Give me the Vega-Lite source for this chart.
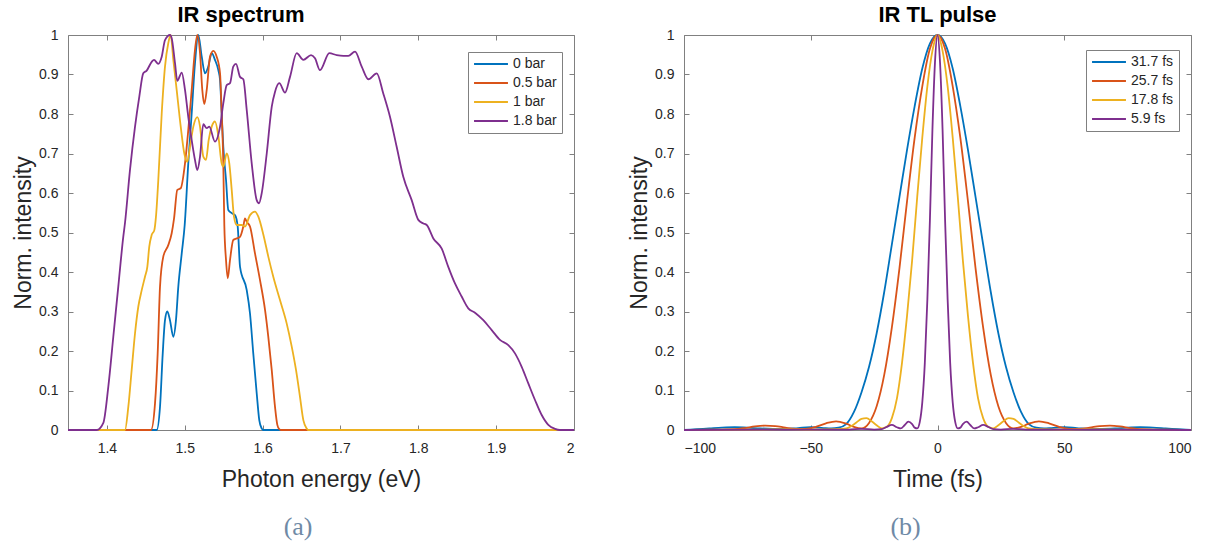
{
"$schema": "https://vega.github.io/schema/vega-lite/v6.json",
"background": "white",
"padding": {"left": 12, "top": 4, "right": 5, "bottom": 5},
"config": {
  "font": "Liberation Sans",
  "view": {"stroke": null},
  "axis": {"domainColor": "#808080", "tickColor": "#808080", "labelColor": "#262626", "titleColor": "#262626", "labelFont": "Liberation Sans", "titleFont": "Liberation Sans", "labelFontSize": 14, "titleFontSize": 23, "titleFontWeight": "normal", "tickSize": -5, "grid": false, "domainWidth": 1},
  "axisX": {"labelPadding": 16, "titlePadding": 13},
  "axisY": {"labelPadding": 15, "titlePadding": 3},
  "legend": {"title": null, "orient": "none", "symbolType": "stroke", "symbolSize": 1150, "symbolStrokeWidth": 2, "labelFontSize": 14, "labelFont": "Liberation Sans", "labelColor": "#262626", "strokeColor": "#808080", "fillColor": "white", "padding": 5, "rowPadding": 5, "clipHeight": 14, "cornerRadius": 0, "labelOffset": 4},
  "title": {"font": "Liberation Sans", "fontSize": 22, "fontWeight": "bold", "color": "black"}
},
"datasets": {
"spec": [
{"s":"0 bar","E":1.35,"I":0},{"s":"0 bar","E":1.4639,"I":0},{"s":"0 bar","E":1.4682,"I":0.059},{"s":"0 bar","E":1.4717,"I":0.194},{"s":"0 bar","E":1.4746,"I":0.278},{"s":"0 bar","E":1.4776,"I":0.300},{"s":"0 bar","E":1.4810,"I":0.278},{"s":"0 bar","E":1.4853,"I":0.236},{"s":"0 bar","E":1.4887,"I":0.278},{"s":"0 bar","E":1.4917,"I":0.363},{"s":"0 bar","E":1.4961,"I":0.447},{"s":"0 bar","E":1.4999,"I":0.519},{"s":"0 bar","E":1.5045,"I":0.675},{"s":"0 bar","E":1.5089,"I":0.802},{"s":"0 bar","E":1.5131,"I":0.928},{"s":"0 bar","E":1.5174,"I":1.0},{"s":"0 bar","E":1.5218,"I":0.945},{"s":"0 bar","E":1.5260,"I":0.903},{"s":"0 bar","E":1.5302,"I":0.920},{"s":"0 bar","E":1.5346,"I":0.954},{"s":"0 bar","E":1.5388,"I":0.937},{"s":"0 bar","E":1.5431,"I":0.911},{"s":"0 bar","E":1.5453,"I":0.886},{"s":"0 bar","E":1.5474,"I":0.802},{"s":"0 bar","E":1.5495,"I":0.717},{"s":"0 bar","E":1.5530,"I":0.633},{"s":"0 bar","E":1.5559,"I":0.557},{"s":"0 bar","E":1.5603,"I":0.549},{"s":"0 bar","E":1.5645,"I":0.544},{"s":"0 bar","E":1.5680,"I":0.515},{"s":"0 bar","E":1.5710,"I":0.413},{"s":"0 bar","E":1.5796,"I":0.354},{"s":"0 bar","E":1.5838,"I":0.295},{"s":"0 bar","E":1.5880,"I":0.194},{"s":"0 bar","E":1.5924,"I":0.093},{"s":"0 bar","E":1.5957,"I":0.025},{"s":"0 bar","E":1.5988,"I":0.004},{"s":"0 bar","E":1.6005,"I":0},{"s":"0 bar","E":2.0,"I":0},
{"s":"0.5 bar","E":1.35,"I":0},{"s":"0.5 bar","E":1.4566,"I":0},{"s":"0.5 bar","E":1.4618,"I":0.068},{"s":"0.5 bar","E":1.4652,"I":0.194},{"s":"0.5 bar","E":1.4682,"I":0.363},{"s":"0.5 bar","E":1.4724,"I":0.439},{"s":"0.5 bar","E":1.4788,"I":0.468},{"s":"0.5 bar","E":1.4832,"I":0.498},{"s":"0.5 bar","E":1.4862,"I":0.535},{"s":"0.5 bar","E":1.4904,"I":0.608},{"s":"0.5 bar","E":1.4948,"I":0.612},{"s":"0.5 bar","E":1.5003,"I":0.675},{"s":"0.5 bar","E":1.5045,"I":0.759},{"s":"0.5 bar","E":1.5089,"I":0.861},{"s":"0.5 bar","E":1.5131,"I":0.962},{"s":"0.5 bar","E":1.5161,"I":1.0},{"s":"0.5 bar","E":1.5196,"I":0.954},{"s":"0.5 bar","E":1.5225,"I":0.861},{"s":"0.5 bar","E":1.5251,"I":0.825},{"s":"0.5 bar","E":1.5282,"I":0.861},{"s":"0.5 bar","E":1.5324,"I":0.945},{"s":"0.5 bar","E":1.5367,"I":0.960},{"s":"0.5 bar","E":1.5410,"I":0.945},{"s":"0.5 bar","E":1.5453,"I":0.903},{"s":"0.5 bar","E":1.5474,"I":0.802},{"s":"0.5 bar","E":1.5495,"I":0.675},{"s":"0.5 bar","E":1.5508,"I":0.519},{"s":"0.5 bar","E":1.5530,"I":0.430},{"s":"0.5 bar","E":1.5552,"I":0.384},{"s":"0.5 bar","E":1.5581,"I":0.430},{"s":"0.5 bar","E":1.5623,"I":0.481},{"s":"0.5 bar","E":1.5667,"I":0.485},{"s":"0.5 bar","E":1.5710,"I":0.489},{"s":"0.5 bar","E":1.5752,"I":0.515},{"s":"0.5 bar","E":1.5774,"I":0.536},{"s":"0.5 bar","E":1.5796,"I":0.527},{"s":"0.5 bar","E":1.5838,"I":0.515},{"s":"0.5 bar","E":1.5902,"I":0.447},{"s":"0.5 bar","E":1.5966,"I":0.380},{"s":"0.5 bar","E":1.6031,"I":0.304},{"s":"0.5 bar","E":1.6073,"I":0.236},{"s":"0.5 bar","E":1.6117,"I":0.152},{"s":"0.5 bar","E":1.6159,"I":0.059},{"s":"0.5 bar","E":1.6189,"I":0.013},{"s":"0.5 bar","E":1.6214,"I":0.002},{"s":"0.5 bar","E":1.6236,"I":0},{"s":"0.5 bar","E":2.0,"I":0},
{"s":"1 bar","E":1.35,"I":0},{"s":"1 bar","E":1.4232,"I":0},{"s":"1 bar","E":1.4275,"I":0.059},{"s":"1 bar","E":1.4318,"I":0.152},{"s":"1 bar","E":1.4361,"I":0.245},{"s":"1 bar","E":1.4403,"I":0.312},{"s":"1 bar","E":1.4447,"I":0.354},{"s":"1 bar","E":1.4489,"I":0.388},{"s":"1 bar","E":1.4519,"I":0.413},{"s":"1 bar","E":1.4544,"I":0.464},{"s":"1 bar","E":1.4575,"I":0.494},{"s":"1 bar","E":1.4609,"I":0.506},{"s":"1 bar","E":1.4630,"I":0.54},{"s":"1 bar","E":1.4660,"I":0.633},{"s":"1 bar","E":1.4704,"I":0.802},{"s":"1 bar","E":1.4746,"I":0.920},{"s":"1 bar","E":1.4788,"I":0.979},{"s":"1 bar","E":1.4819,"I":1.0},{"s":"1 bar","E":1.4853,"I":0.937},{"s":"1 bar","E":1.4896,"I":0.861},{"s":"1 bar","E":1.4948,"I":0.768},{"s":"1 bar","E":1.4994,"I":0.700},{"s":"1 bar","E":1.5033,"I":0.679},{"s":"1 bar","E":1.5067,"I":0.717},{"s":"1 bar","E":1.5110,"I":0.768},{"s":"1 bar","E":1.5161,"I":0.792},{"s":"1 bar","E":1.5196,"I":0.768},{"s":"1 bar","E":1.5238,"I":0.692},{"s":"1 bar","E":1.5273,"I":0.684},{"s":"1 bar","E":1.5307,"I":0.734},{"s":"1 bar","E":1.5346,"I":0.768},{"s":"1 bar","E":1.5388,"I":0.781},{"s":"1 bar","E":1.5431,"I":0.745},{"s":"1 bar","E":1.5474,"I":0.675},{"s":"1 bar","E":1.5495,"I":0.667},{"s":"1 bar","E":1.5539,"I":0.700},{"s":"1 bar","E":1.5572,"I":0.675},{"s":"1 bar","E":1.5603,"I":0.608},{"s":"1 bar","E":1.5632,"I":0.540},{"s":"1 bar","E":1.5667,"I":0.519},{"s":"1 bar","E":1.5731,"I":0.519},{"s":"1 bar","E":1.5774,"I":0.515},{"s":"1 bar","E":1.5838,"I":0.544},{"s":"1 bar","E":1.5902,"I":0.553},{"s":"1 bar","E":1.5945,"I":0.540},{"s":"1 bar","E":1.6009,"I":0.495},{"s":"1 bar","E":1.6073,"I":0.439},{"s":"1 bar","E":1.6137,"I":0.388},{"s":"1 bar","E":1.6223,"I":0.329},{"s":"1 bar","E":1.6309,"I":0.270},{"s":"1 bar","E":1.6374,"I":0.211},{"s":"1 bar","E":1.6429,"I":0.152},{"s":"1 bar","E":1.6480,"I":0.084},{"s":"1 bar","E":1.6523,"I":0.025},{"s":"1 bar","E":1.6566,"I":0.004},{"s":"1 bar","E":1.6583,"I":0},{"s":"1 bar","E":2.0,"I":0},
{"s":"1.8 bar","E":1.35,"I":0},{"s":"1.8 bar","E":1.387,"I":0},{"s":"1.8 bar","E":1.3954,"I":0.018},{"s":"1.8 bar","E":1.4018,"I":0.110},{"s":"1.8 bar","E":1.4082,"I":0.236},{"s":"1.8 bar","E":1.4146,"I":0.363},{"s":"1.8 bar","E":1.4210,"I":0.489},{"s":"1.8 bar","E":1.4232,"I":0.524},{"s":"1.8 bar","E":1.4296,"I":0.658},{"s":"1.8 bar","E":1.4361,"I":0.768},{"s":"1.8 bar","E":1.4416,"I":0.844},{"s":"1.8 bar","E":1.4467,"I":0.903},{"s":"1.8 bar","E":1.4511,"I":0.910},{"s":"1.8 bar","E":1.4575,"I":0.932},{"s":"1.8 bar","E":1.4605,"I":0.937},{"s":"1.8 bar","E":1.4660,"I":0.927},{"s":"1.8 bar","E":1.4704,"I":0.945},{"s":"1.8 bar","E":1.4746,"I":0.987},{"s":"1.8 bar","E":1.4810,"I":1.0},{"s":"1.8 bar","E":1.4832,"I":0.992},{"s":"1.8 bar","E":1.4875,"I":0.928},{"s":"1.8 bar","E":1.4904,"I":0.884},{"s":"1.8 bar","E":1.4961,"I":0.905},{"s":"1.8 bar","E":1.5003,"I":0.861},{"s":"1.8 bar","E":1.5045,"I":0.793},{"s":"1.8 bar","E":1.5089,"I":0.734},{"s":"1.8 bar","E":1.5131,"I":0.684},{"s":"1.8 bar","E":1.5161,"I":0.658},{"s":"1.8 bar","E":1.5196,"I":0.692},{"s":"1.8 bar","E":1.5238,"I":0.774},{"s":"1.8 bar","E":1.5282,"I":0.764},{"s":"1.8 bar","E":1.5315,"I":0.768},{"s":"1.8 bar","E":1.5388,"I":0.730},{"s":"1.8 bar","E":1.5453,"I":0.768},{"s":"1.8 bar","E":1.5495,"I":0.827},{"s":"1.8 bar","E":1.5539,"I":0.873},{"s":"1.8 bar","E":1.5581,"I":0.878},{"s":"1.8 bar","E":1.5623,"I":0.920},{"s":"1.8 bar","E":1.5658,"I":0.927},{"s":"1.8 bar","E":1.5710,"I":0.894},{"s":"1.8 bar","E":1.5752,"I":0.888},{"s":"1.8 bar","E":1.5796,"I":0.810},{"s":"1.8 bar","E":1.5860,"I":0.675},{"s":"1.8 bar","E":1.5924,"I":0.582},{"s":"1.8 bar","E":1.5954,"I":0.574},{"s":"1.8 bar","E":1.5988,"I":0.599},{"s":"1.8 bar","E":1.6053,"I":0.700},{"s":"1.8 bar","E":1.6117,"I":0.818},{"s":"1.8 bar","E":1.6159,"I":0.856},{"s":"1.8 bar","E":1.6214,"I":0.878},{"s":"1.8 bar","E":1.6288,"I":0.854},{"s":"1.8 bar","E":1.6352,"I":0.894},{"s":"1.8 bar","E":1.6438,"I":0.954},{"s":"1.8 bar","E":1.6523,"I":0.937},{"s":"1.8 bar","E":1.6622,"I":0.949},{"s":"1.8 bar","E":1.6673,"I":0.941},{"s":"1.8 bar","E":1.6737,"I":0.911},{"s":"1.8 bar","E":1.6857,"I":0.954},{"s":"1.8 bar","E":1.6952,"I":0.949},{"s":"1.8 bar","E":1.7037,"I":0.947},{"s":"1.8 bar","E":1.7101,"I":0.947},{"s":"1.8 bar","E":1.7187,"I":0.958},{"s":"1.8 bar","E":1.7273,"I":0.920},{"s":"1.8 bar","E":1.7358,"I":0.888},{"s":"1.8 bar","E":1.7466,"I":0.903},{"s":"1.8 bar","E":1.7550,"I":0.852},{"s":"1.8 bar","E":1.7636,"I":0.793},{"s":"1.8 bar","E":1.7722,"I":0.717},{"s":"1.8 bar","E":1.7807,"I":0.641},{"s":"1.8 bar","E":1.7915,"I":0.582},{"s":"1.8 bar","E":1.8000,"I":0.532},{"s":"1.8 bar","E":1.8064,"I":0.523},{"s":"1.8 bar","E":1.8108,"I":0.519},{"s":"1.8 bar","E":1.8193,"I":0.485},{"s":"1.8 bar","E":1.8301,"I":0.459},{"s":"1.8 bar","E":1.8385,"I":0.413},{"s":"1.8 bar","E":1.8471,"I":0.371},{"s":"1.8 bar","E":1.8557,"I":0.338},{"s":"1.8 bar","E":1.8642,"I":0.308},{"s":"1.8 bar","E":1.8728,"I":0.297},{"s":"1.8 bar","E":1.8835,"I":0.278},{"s":"1.8 bar","E":1.8943,"I":0.253},{"s":"1.8 bar","E":1.9049,"I":0.228},{"s":"1.8 bar","E":1.9156,"I":0.215},{"s":"1.8 bar","E":1.9242,"I":0.194},{"s":"1.8 bar","E":1.9328,"I":0.160},{"s":"1.8 bar","E":1.9413,"I":0.118},{"s":"1.8 bar","E":1.9499,"I":0.076},{"s":"1.8 bar","E":1.9585,"I":0.038},{"s":"1.8 bar","E":1.9670,"I":0.013},{"s":"1.8 bar","E":1.9756,"I":0.003},{"s":"1.8 bar","E":1.982,"I":0},{"s":"1.8 bar","E":2.0,"I":0}
],
"pulse": [
{"p":"31.7 fs","t":-100,"I":0},{"p":"31.7 fs","t":-95,"I":0.002},{"p":"31.7 fs","t":-90,"I":0.004},{"p":"31.7 fs","t":-85,"I":0.006},{"p":"31.7 fs","t":-80,"I":0.007},{"p":"31.7 fs","t":-75,"I":0.006},{"p":"31.7 fs","t":-70,"I":0.004},{"p":"31.7 fs","t":-65,"I":0.003},{"p":"31.7 fs","t":-60,"I":0.003},{"p":"31.7 fs","t":-55,"I":0.005},{"p":"31.7 fs","t":-50,"I":0.007},{"p":"31.7 fs","t":-45,"I":0.005},{"p":"31.7 fs","t":-42,"I":0.004},{"p":"31.7 fs","t":-39,"I":0.006},{"p":"31.7 fs","t":-36,"I":0.015},{"p":"31.7 fs","t":-33,"I":0.045},{"p":"31.7 fs","t":-30,"I":0.095},{"p":"31.7 fs","t":-27,"I":0.16},{"p":"31.7 fs","t":-24,"I":0.245},{"p":"31.7 fs","t":-21,"I":0.35},{"p":"31.7 fs","t":-18,"I":0.47},{"p":"31.7 fs","t":-15,"I":0.59},{"p":"31.7 fs","t":-12,"I":0.71},{"p":"31.7 fs","t":-9,"I":0.82},{"p":"31.7 fs","t":-6,"I":0.915},{"p":"31.7 fs","t":-3,"I":0.978},{"p":"31.7 fs","t":0,"I":1},{"p":"31.7 fs","t":3,"I":0.978},{"p":"31.7 fs","t":6,"I":0.915},{"p":"31.7 fs","t":9,"I":0.82},{"p":"31.7 fs","t":12,"I":0.71},{"p":"31.7 fs","t":15,"I":0.59},{"p":"31.7 fs","t":18,"I":0.47},{"p":"31.7 fs","t":21,"I":0.35},{"p":"31.7 fs","t":24,"I":0.245},{"p":"31.7 fs","t":27,"I":0.16},{"p":"31.7 fs","t":30,"I":0.095},{"p":"31.7 fs","t":33,"I":0.045},{"p":"31.7 fs","t":36,"I":0.015},{"p":"31.7 fs","t":39,"I":0.006},{"p":"31.7 fs","t":42,"I":0.004},{"p":"31.7 fs","t":45,"I":0.005},{"p":"31.7 fs","t":50,"I":0.007},{"p":"31.7 fs","t":55,"I":0.005},{"p":"31.7 fs","t":60,"I":0.003},{"p":"31.7 fs","t":65,"I":0.003},{"p":"31.7 fs","t":70,"I":0.004},{"p":"31.7 fs","t":75,"I":0.006},{"p":"31.7 fs","t":80,"I":0.007},{"p":"31.7 fs","t":85,"I":0.006},{"p":"31.7 fs","t":90,"I":0.004},{"p":"31.7 fs","t":95,"I":0.002},{"p":"31.7 fs","t":100,"I":0},
{"p":"25.7 fs","t":-100,"I":0},{"p":"25.7 fs","t":-90,"I":0.001},{"p":"25.7 fs","t":-85,"I":0.001},{"p":"25.7 fs","t":-80,"I":0.002},{"p":"25.7 fs","t":-76,"I":0.005},{"p":"25.7 fs","t":-72,"I":0.009},{"p":"25.7 fs","t":-68,"I":0.011},{"p":"25.7 fs","t":-64,"I":0.010},{"p":"25.7 fs","t":-60,"I":0.006},{"p":"25.7 fs","t":-56,"I":0.003},{"p":"25.7 fs","t":-52,"I":0.003},{"p":"25.7 fs","t":-48,"I":0.008},{"p":"25.7 fs","t":-44,"I":0.017},{"p":"25.7 fs","t":-40,"I":0.022},{"p":"25.7 fs","t":-36,"I":0.016},{"p":"25.7 fs","t":-33,"I":0.008},{"p":"25.7 fs","t":-30,"I":0.004},{"p":"25.7 fs","t":-27,"I":0.018},{"p":"25.7 fs","t":-24,"I":0.06},{"p":"25.7 fs","t":-21,"I":0.14},{"p":"25.7 fs","t":-18,"I":0.26},{"p":"25.7 fs","t":-15,"I":0.41},{"p":"25.7 fs","t":-12,"I":0.58},{"p":"25.7 fs","t":-9,"I":0.74},{"p":"25.7 fs","t":-6,"I":0.87},{"p":"25.7 fs","t":-3,"I":0.965},{"p":"25.7 fs","t":0,"I":1},{"p":"25.7 fs","t":3,"I":0.965},{"p":"25.7 fs","t":6,"I":0.87},{"p":"25.7 fs","t":9,"I":0.74},{"p":"25.7 fs","t":12,"I":0.58},{"p":"25.7 fs","t":15,"I":0.41},{"p":"25.7 fs","t":18,"I":0.26},{"p":"25.7 fs","t":21,"I":0.14},{"p":"25.7 fs","t":24,"I":0.06},{"p":"25.7 fs","t":27,"I":0.018},{"p":"25.7 fs","t":30,"I":0.004},{"p":"25.7 fs","t":33,"I":0.008},{"p":"25.7 fs","t":36,"I":0.016},{"p":"25.7 fs","t":40,"I":0.022},{"p":"25.7 fs","t":44,"I":0.017},{"p":"25.7 fs","t":48,"I":0.008},{"p":"25.7 fs","t":52,"I":0.003},{"p":"25.7 fs","t":56,"I":0.003},{"p":"25.7 fs","t":60,"I":0.006},{"p":"25.7 fs","t":64,"I":0.010},{"p":"25.7 fs","t":68,"I":0.011},{"p":"25.7 fs","t":72,"I":0.009},{"p":"25.7 fs","t":76,"I":0.005},{"p":"25.7 fs","t":80,"I":0.002},{"p":"25.7 fs","t":85,"I":0.001},{"p":"25.7 fs","t":90,"I":0.001},{"p":"25.7 fs","t":100,"I":0},
{"p":"17.8 fs","t":-100,"I":0},{"p":"17.8 fs","t":-70,"I":0.001},{"p":"17.8 fs","t":-60,"I":0.002},{"p":"17.8 fs","t":-50,"I":0.001},{"p":"17.8 fs","t":-40,"I":0.002},{"p":"17.8 fs","t":-36,"I":0.004},{"p":"17.8 fs","t":-34,"I":0.01},{"p":"17.8 fs","t":-32,"I":0.019},{"p":"17.8 fs","t":-30,"I":0.028},{"p":"17.8 fs","t":-28,"I":0.03},{"p":"17.8 fs","t":-26,"I":0.022},{"p":"17.8 fs","t":-24,"I":0.012},{"p":"17.8 fs","t":-22,"I":0.004},{"p":"17.8 fs","t":-20,"I":0.008},{"p":"17.8 fs","t":-18,"I":0.03},{"p":"17.8 fs","t":-16,"I":0.08},{"p":"17.8 fs","t":-14,"I":0.17},{"p":"17.8 fs","t":-12,"I":0.29},{"p":"17.8 fs","t":-10,"I":0.43},{"p":"17.8 fs","t":-8,"I":0.59},{"p":"17.8 fs","t":-6,"I":0.74},{"p":"17.8 fs","t":-4,"I":0.87},{"p":"17.8 fs","t":-2,"I":0.96},{"p":"17.8 fs","t":0,"I":1},{"p":"17.8 fs","t":2,"I":0.96},{"p":"17.8 fs","t":4,"I":0.87},{"p":"17.8 fs","t":6,"I":0.74},{"p":"17.8 fs","t":8,"I":0.59},{"p":"17.8 fs","t":10,"I":0.43},{"p":"17.8 fs","t":12,"I":0.29},{"p":"17.8 fs","t":14,"I":0.17},{"p":"17.8 fs","t":16,"I":0.08},{"p":"17.8 fs","t":18,"I":0.03},{"p":"17.8 fs","t":20,"I":0.008},{"p":"17.8 fs","t":22,"I":0.004},{"p":"17.8 fs","t":24,"I":0.012},{"p":"17.8 fs","t":26,"I":0.022},{"p":"17.8 fs","t":28,"I":0.03},{"p":"17.8 fs","t":30,"I":0.028},{"p":"17.8 fs","t":32,"I":0.019},{"p":"17.8 fs","t":34,"I":0.01},{"p":"17.8 fs","t":36,"I":0.004},{"p":"17.8 fs","t":40,"I":0.002},{"p":"17.8 fs","t":50,"I":0.001},{"p":"17.8 fs","t":60,"I":0.002},{"p":"17.8 fs","t":70,"I":0.001},{"p":"17.8 fs","t":100,"I":0},
{"p":"5.9 fs","t":-100,"I":0},{"p":"5.9 fs","t":-60,"I":0.001},{"p":"5.9 fs","t":-45,"I":0.001},{"p":"5.9 fs","t":-35,"I":0.001},{"p":"5.9 fs","t":-30,"I":0.003},{"p":"5.9 fs","t":-25,"I":0.001},{"p":"5.9 fs","t":-22,"I":0.002},{"p":"5.9 fs","t":-20,"I":0.008},{"p":"5.9 fs","t":-18,"I":0.013},{"p":"5.9 fs","t":-16,"I":0.007},{"p":"5.9 fs","t":-14.5,"I":0.004},{"p":"5.9 fs","t":-13,"I":0.012},{"p":"5.9 fs","t":-11.5,"I":0.021},{"p":"5.9 fs","t":-10,"I":0.015},{"p":"5.9 fs","t":-9,"I":0.006},{"p":"5.9 fs","t":-8,"I":0.004},{"p":"5.9 fs","t":-7,"I":0.02},{"p":"5.9 fs","t":-6,"I":0.07},{"p":"5.9 fs","t":-5,"I":0.17},{"p":"5.9 fs","t":-4,"I":0.33},{"p":"5.9 fs","t":-3,"I":0.53},{"p":"5.9 fs","t":-2,"I":0.76},{"p":"5.9 fs","t":-1,"I":0.93},{"p":"5.9 fs","t":0,"I":1},{"p":"5.9 fs","t":1,"I":0.93},{"p":"5.9 fs","t":2,"I":0.76},{"p":"5.9 fs","t":3,"I":0.53},{"p":"5.9 fs","t":4,"I":0.33},{"p":"5.9 fs","t":5,"I":0.17},{"p":"5.9 fs","t":6,"I":0.07},{"p":"5.9 fs","t":7,"I":0.02},{"p":"5.9 fs","t":8,"I":0.004},{"p":"5.9 fs","t":9,"I":0.006},{"p":"5.9 fs","t":10,"I":0.015},{"p":"5.9 fs","t":11.5,"I":0.021},{"p":"5.9 fs","t":13,"I":0.012},{"p":"5.9 fs","t":14.5,"I":0.004},{"p":"5.9 fs","t":16,"I":0.007},{"p":"5.9 fs","t":18,"I":0.013},{"p":"5.9 fs","t":20,"I":0.008},{"p":"5.9 fs","t":22,"I":0.002},{"p":"5.9 fs","t":25,"I":0.001},{"p":"5.9 fs","t":30,"I":0.003},{"p":"5.9 fs","t":35,"I":0.001},{"p":"5.9 fs","t":45,"I":0.001},{"p":"5.9 fs","t":60,"I":0.001},{"p":"5.9 fs","t":100,"I":0}
]
},
"spacing": 50,
"resolve": {"scale": {"color": "independent"}, "legend": {"color": "independent"}},
"hconcat": [
{
  "title": {"text": "(a)", "orient": "bottom", "anchor": "middle", "font": "Liberation Serif", "fontSize": 26, "fontWeight": "normal", "color": "#6f8aa6", "offset": 23, "dx": 3},
  "vconcat": [{
    "width": 506, "height": 395,
    "title": {"text": "IR spectrum", "offset": 1, "dx": -80},
    "data": {"name": "spec"},
    "layer": [
      {"mark": {"type": "line", "strokeWidth": 1.8, "interpolate": "monotone"},
       "encoding": {
         "x": {"field": "E", "type": "quantitative", "scale": {"domain": [1.35, 2], "nice": false, "zero": false}, "axis": {"orient": "bottom", "values": [1.4,1.5,1.6,1.7,1.8,1.9,2], "format": "~g", "title": "Photon energy (eV)"}},
         "y": {"field": "I", "type": "quantitative", "scale": {"domain": [0, 1], "nice": false}, "axis": {"orient": "left", "values": [0,0.1,0.2,0.3,0.4,0.5,0.6,0.7,0.8,0.9,1], "format": "~g", "title": "Norm. intensity"}},
         "color": {"field": "s", "type": "nominal", "scale": {"domain": ["0 bar","0.5 bar","1 bar","1.8 bar"], "range": ["#0072BD","#D95319","#EDB120","#7E2F8E"]}, "legend": {"legendX": 400, "legendY": 17}}
       }},
      {"mark": {"type": "point", "opacity": 0},
       "encoding": {
         "x": {"field": "E", "type": "quantitative", "scale": {"domain": [1.35, 2], "nice": false, "zero": false}, "axis": {"orient": "top", "values": [1.4,1.5,1.6,1.7,1.8,1.9,2], "labels": false, "title": null}},
         "y": {"field": "I", "type": "quantitative", "scale": {"domain": [0, 1], "nice": false}, "axis": {"orient": "right", "values": [0,0.1,0.2,0.3,0.4,0.5,0.6,0.7,0.8,0.9,1], "labels": false, "title": null}}
       }}
    ],
    "resolve": {"axis": {"x": "independent", "y": "independent"}}
  }]
},
{
  "title": {"text": "(b)", "orient": "bottom", "anchor": "middle", "font": "Liberation Serif", "fontSize": 26, "fontWeight": "normal", "color": "#6f8aa6", "offset": 23, "dx": -6},
  "vconcat": [{
    "width": 507, "height": 395,
    "title": {"text": "IR TL pulse", "offset": 1},
    "data": {"name": "pulse"},
    "layer": [
      {"mark": {"type": "line", "strokeWidth": 1.8, "interpolate": "monotone"},
       "encoding": {
         "x": {"field": "t", "type": "quantitative", "scale": {"domain": [-100, 100], "nice": false}, "axis": {"orient": "bottom", "values": [-100,-50,0,50,100], "format": "d", "title": "Time (fs)"}},
         "y": {"field": "I", "type": "quantitative", "scale": {"domain": [0, 1], "nice": false}, "axis": {"orient": "left", "values": [0,0.1,0.2,0.3,0.4,0.5,0.6,0.7,0.8,0.9,1], "format": "~g", "title": "Norm. intensity"}},
         "color": {"field": "p", "type": "nominal", "scale": {"domain": ["31.7 fs","25.7 fs","17.8 fs","5.9 fs"], "range": ["#0072BD","#D95319","#EDB120","#7E2F8E"]}, "legend": {"legendX": 402, "legendY": 15}}
       }},
      {"mark": {"type": "point", "opacity": 0},
       "encoding": {
         "x": {"field": "t", "type": "quantitative", "scale": {"domain": [-100, 100], "nice": false}, "axis": {"orient": "top", "values": [-100,-50,0,50,100], "labels": false, "title": null}},
         "y": {"field": "I", "type": "quantitative", "scale": {"domain": [0, 1], "nice": false}, "axis": {"orient": "right", "values": [0,0.1,0.2,0.3,0.4,0.5,0.6,0.7,0.8,0.9,1], "labels": false, "title": null}}
       }}
    ],
    "resolve": {"axis": {"x": "independent", "y": "independent"}}
  }]
}
]
}
